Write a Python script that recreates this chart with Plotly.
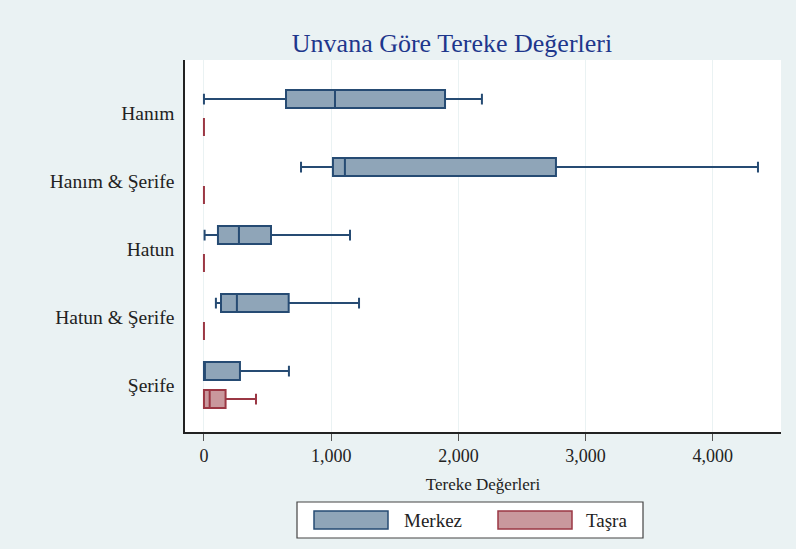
import plotly.graph_objects as go

# Box statistics (Tereke Değerleri)
unvan = ["Hanım", "Hanım & Şerife", "Hatun", "Hatun & Şerife", "Şerife"]

merkez_low = [0, 763, 5, 94, 0]
merkez_q1 = [645, 1014, 110, 134, 0]
merkez_med = [1030, 1108, 275, 259, 0]
merkez_q3 = [1895, 2767, 527, 666, 283]
merkez_high = [2185, 4355, 1148, 1219, 668]

tasra_low = [0, 0, 0, 0, 0]
tasra_q1 = [0, 0, 0, 0, 0]
tasra_med = [0, 0, 0, 0, 45]
tasra_q3 = [0, 0, 0, 0, 170]
tasra_high = [0, 0, 0, 0, 409]

serif = "Liberation Serif"

fig = go.Figure()
fig.add_trace(go.Box(
    name="Merkez", y=unvan, orientation="h",
    lowerfence=merkez_low, q1=merkez_q1, median=merkez_med,
    q3=merkez_q3, upperfence=merkez_high,
    fillcolor="rgb(143,165,184)", line=dict(color="rgb(38,75,115)", width=2),
    whiskerwidth=0.6, boxpoints=False, showlegend=False,
))
fig.add_trace(go.Box(
    name="Taşra", y=unvan, orientation="h",
    lowerfence=tasra_low, q1=tasra_q1, median=tasra_med,
    q3=tasra_q3, upperfence=tasra_high,
    fillcolor="rgb(201,152,157)", line=dict(color="rgb(155,55,68)", width=2),
    whiskerwidth=0.6, boxpoints=False, showlegend=False,
))

fig.update_layout(
    width=796, height=549,
    margin=dict(l=185, r=15, t=60, b=117),
    paper_bgcolor="rgb(234,242,243)",
    plot_bgcolor="white",
    boxmode="group", boxgap=0.176, boxgroupgap=0.357,
    font=dict(family=serif, size=18, color="#222"),
    title=dict(text="Unvana Göre Tereke Değerleri", x=452 / 796, xanchor="center",
               xref="container", y=0.922, yanchor="middle",
               font=dict(family=serif, size=26, color="rgb(30,55,140)")),
    xaxis=dict(range=[-149, 4536], tickvals=[0, 1000, 2000, 3000, 4000],
               ticktext=["0", "1,000", "2,000", "3,000", "4,000"],
               showgrid=True, gridcolor="rgb(234,242,243)", gridwidth=1,
               zeroline=False, showline=True, linecolor="#222", linewidth=1.5,
               ticks="outside", ticklen=7, tickcolor="#555",
               tickfont=dict(family=serif, size=18),
               title=dict(text="Tereke Değerleri", standoff=13,
                          font=dict(family=serif, size=17))),
    yaxis=dict(categoryorder="array", categoryarray=unvan,
               range=[4.69, -0.78], showgrid=False, zeroline=False,
               showline=True, linecolor="#222", linewidth=1.5,
               ticks="", ticklabelstandoff=5,
               tickfont=dict(family=serif, size=19.5)),
)

# Legend drawn as a framed key below the plot
fig.add_shape(type="rect", xref="paper", yref="paper",
              x0=(297 - 185) / 596, x1=(643 - 185) / 596,
              y0=-(538 - 432) / 372, y1=-(502 - 432) / 372,
              fillcolor="white", line=dict(color="#444", width=1.2))
legend_items = [("Merkez", "rgb(143,165,184)", "rgb(38,75,115)", 314, 388, 402),
                ("Taşra", "rgb(201,152,157)", "rgb(155,55,68)", 498, 572, 584)]
for label, fill, edge, sx0, sx1, tx in legend_items:
    fig.add_shape(type="rect", xref="paper", yref="paper",
                  x0=(sx0 - 185) / 596, x1=(sx1 - 185) / 596,
                  y0=-(529 - 432) / 372, y1=-(511 - 432) / 372,
                  fillcolor=fill, line=dict(color=edge, width=1.5))
    fig.add_annotation(text=label, xref="paper", yref="paper",
                       x=(tx - 185) / 596, y=-(520 - 432) / 372,
                       xanchor="left", yanchor="middle", showarrow=False,
                       font=dict(family=serif, size=19, color="#222"))

fig.write_html("out.html", config={"displayModeBar": False},
               post_script="document.body.style.margin='0';")
